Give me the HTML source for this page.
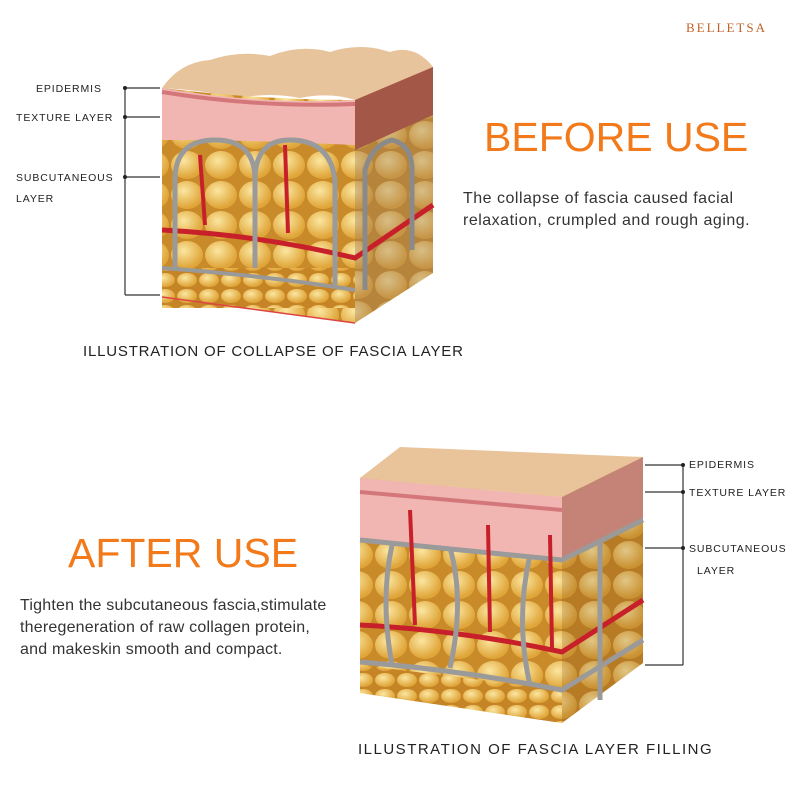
<!DOCTYPE html>
<html><head><meta charset="utf-8"><style>
body{margin:0;background:#fff;}
.wrap{position:relative;width:800px;height:800px;overflow:hidden;font-family:"Liberation Sans",sans-serif;}
.t{position:absolute;white-space:nowrap;color:#222;}
.l{font-size:10.5px;letter-spacing:0.9px;}
</style></head><body><div class="wrap">
<svg width="800" height="800" style="position:absolute;left:0;top:0">
<defs>
<radialGradient id="fat" cx="40%" cy="35%" r="60%"><stop offset="0" stop-color="#fbe6a0"/><stop offset="1" stop-color="#e0a63a"/></radialGradient>
<pattern id="fp" width="34" height="30" patternUnits="userSpaceOnUse"><rect width="34" height="30" fill="#c98a2a"/><ellipse cx="17" cy="15" rx="16" ry="14" fill="url(#fat)"/></pattern>
<pattern id="fp2" width="22" height="16" patternUnits="userSpaceOnUse"><rect width="22" height="16" fill="#c58426"/><ellipse cx="11" cy="8" rx="10" ry="7" fill="url(#fat)"/></pattern>
</defs>
<path d="M162,88 Q180,62 210,60 Q240,50 270,56 Q300,44 330,52 Q360,42 390,52 Q415,44 433,67 L355,100 Q330,92 300,98 Q270,92 240,98 Q200,90 162,88Z" fill="#e8c49c"/>
<path d="M162,88 Q260,100 355,100 L355,323 L162,297Z" fill="url(#fp)"/>
<path d="M162,88 Q260,105 355,100 L355,145 Q260,140 162,140Z" fill="#f1b6b2"/>
<path d="M162,92 Q260,108 355,104" stroke="#d4777a" stroke-width="4" fill="none"/>
<path d="M355,100 L433,67 L433,273 L355,323Z" fill="url(#fp)" opacity="0.85"/>
<path d="M355,100 L433,67 L433,115 L355,150Z" fill="#b5605a"/>
<path d="M355,100 L433,67 L433,273 L355,323Z" fill="#6b3a10" opacity="0.25"/>
<rect x="162" y="268" width="193" height="40" fill="url(#fp2)"/>
<path d="M162,268 Q260,275 355,290" stroke="#999" stroke-width="4" fill="none"/>
<path d="M162,230 Q260,235 355,258 L433,205" stroke="#c8202a" stroke-width="5" fill="none"/>
<path d="M175,268 L175,180 Q175,140 215,140 Q255,140 255,180 L255,268 M255,180 Q255,140 290,140 Q330,140 335,180 L335,285" stroke="#9a9a9a" stroke-width="5" fill="none"/>
<path d="M200,155 L205,225 M285,145 L288,233" stroke="#c8202a" stroke-width="4" fill="none"/>
<path d="M365,290 L365,170 Q372,145 392,140 Q412,145 412,170 L412,250" stroke="#8a8a8a" stroke-width="5" fill="none"/>
<path d="M162,297 L355,323" stroke="#d44" stroke-width="1.5"/>
<g stroke="#333" stroke-width="1.2">
<line x1="125" y1="88" x2="125" y2="295"/><line x1="125" y1="88" x2="160" y2="88"/><line x1="125" y1="117" x2="160" y2="117"/><line x1="125" y1="177" x2="160" y2="177"/><line x1="125" y1="295" x2="160" y2="295"/>
</g>
<circle cx="125" cy="88" r="2" fill="#222"/><circle cx="125" cy="117" r="2" fill="#222"/><circle cx="125" cy="177" r="2" fill="#222"/>
<path d="M360,478 L400,447 L643,457 L562,497Z" fill="#e9c39a"/>
<path d="M360,478 L562,497 L562,723 L360,693Z" fill="url(#fp)"/>
<path d="M360,478 L562,497 L562,560 L360,540Z" fill="#f1b6b2"/>
<path d="M360,492 L562,510" stroke="#d4777a" stroke-width="4" fill="none"/>
<path d="M562,497 L643,457 L643,663 L562,723Z" fill="url(#fp)"/>
<path d="M562,497 L643,457 L643,520 L562,560Z" fill="#d9948f"/>
<path d="M562,497 L643,457 L643,663 L562,723Z" fill="#6b3a10" opacity="0.18"/>
<path d="M360,665 L562,690 L562,723 L360,693Z" fill="url(#fp2)"/>
<path d="M360,540 Q460,550 562,560 L643,520" stroke="#9a9a9a" stroke-width="5" fill="none"/>
<path d="M360,662 Q460,670 562,690 L643,640" stroke="#9a9a9a" stroke-width="5" fill="none"/>
<path d="M360,625 Q460,630 562,652 L643,600" stroke="#c8202a" stroke-width="5" fill="none"/>
<path d="M392,545 Q380,600 392,665 M450,548 Q465,600 450,668 M530,555 Q515,620 530,685 M600,540 L600,700" stroke="#9a9a9a" stroke-width="5" fill="none"/>
<path d="M410,510 L415,625 M488,525 L490,632 M550,535 L552,648" stroke="#c8202a" stroke-width="4" fill="none"/>
<g stroke="#333" stroke-width="1.2">
<line x1="683" y1="465" x2="683" y2="665"/><line x1="645" y1="465" x2="683" y2="465"/><line x1="645" y1="492" x2="683" y2="492"/><line x1="645" y1="548" x2="683" y2="548"/><line x1="645" y1="665" x2="683" y2="665"/>
</g>
<circle cx="683" cy="465" r="2" fill="#222"/><circle cx="683" cy="492" r="2" fill="#222"/><circle cx="683" cy="548" r="2" fill="#222"/>
</svg>
<div class="t" style="left:686px;top:20px;font-size:13px;letter-spacing:2px;color:#c0622a;font-family:'Liberation Serif',serif">BELLETSA</div>
<div class="t l" style="left:36px;top:83px">EPIDERMIS</div>
<div class="t l" style="left:16px;top:112px">TEXTURE LAYER</div>
<div class="t l" style="left:16px;top:172px">SUBCUTANEOUS</div>
<div class="t l" style="left:16px;top:193px">LAYER</div>
<div class="t" style="left:484px;top:114px;font-size:41px;color:#f27a1a">BEFORE USE</div>
<div class="t" style="left:463px;top:188px;font-size:16px;letter-spacing:0.5px;line-height:22px;color:#333">The collapse of fascia caused facial<br>relaxation, crumpled and rough aging.</div>
<div class="t" style="left:83px;top:343px;font-size:15px;letter-spacing:0.8px">ILLUSTRATION OF COLLAPSE OF FASCIA LAYER</div>
<div class="t l" style="left:689px;top:459px">EPIDERMIS</div>
<div class="t l" style="left:689px;top:487px">TEXTURE LAYER</div>
<div class="t l" style="left:689px;top:543px">SUBCUTANEOUS</div>
<div class="t l" style="left:697px;top:565px">LAYER</div>
<div class="t" style="left:68px;top:530px;font-size:41px;color:#f27a1a">AFTER USE</div>
<div class="t" style="left:20px;top:595px;font-size:16px;letter-spacing:0.2px;line-height:22px;color:#333">Tighten the subcutaneous fascia,stimulate<br>theregeneration of raw collagen protein,<br>and makeskin smooth and compact.</div>
<div class="t" style="left:358px;top:741px;font-size:15px;letter-spacing:1.5px">ILLUSTRATION OF FASCIA LAYER FILLING</div>
</div></body></html>
